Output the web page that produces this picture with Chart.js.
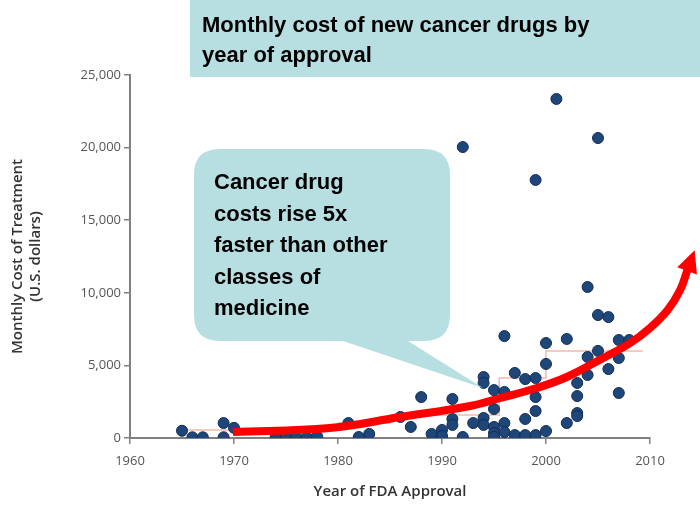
<!DOCTYPE html>
<html>
<head>
<meta charset="utf-8">
<script src="https://cdn.jsdelivr.net/npm/chart.js@4.4.1/dist/chart.umd.min.js"></script>
<style>
  html, body { margin: 0; padding: 0; background: #ffffff; }
  #c { display: block; }
</style>
</head>
<body>
<canvas id="c" width="700" height="506"></canvas>
<script>
// ---- data ----
const drugYears = [
  1965, 1966, 1967, 1969, 1969, 1970,
  1974, 1975, 1976, 1977, 1978,
  1981, 1982, 1983, 1986, 1987, 1988, 1989, 1990, 1990,
  1991, 1991, 1991, 1992, 1992, 1993,
  1994, 1994, 1994, 1994,
  1995, 1995, 1995, 1995, 1995,
  1996, 1996, 1996, 1996,
  1997, 1997,
  1998, 1998, 1998,
  1999, 1999, 1999, 1999, 1999,
  2000, 2000, 2000,
  2001,
  2002, 2002,
  2003, 2003, 2003, 2003,
  2004, 2004, 2004,
  2005, 2005, 2005,
  2006, 2006,
  2007, 2007, 2007,
  2008
];
const drugCosts = [
  500, 50, 50, 1030, 50, 700,
  50, 50, 50, 50, 100,
  1030, 70, 280, 1450, 760, 2820, 280, 550, 140,
  2690, 1310, 900, 70, 20040, 1030,
  4200, 3790, 1380, 900,
  3300, 2000, 760, 340, 70,
  7020, 3170, 1030, 410,
  4480, 200,
  4060, 1310, 200,
  4130, 2820, 1860, 200, 17770,
  6540, 5100, 480,
  23350,
  6820, 1030,
  3790, 2890, 1720, 1515,
  10400, 5580, 4340,
  8470, 6000, 20660,
  8330, 4750,
  6750, 5510, 3100,
  6750
];
// faint median step line
const medianYears = [1965, 1980, 1985, 1995.5, 2000, 2005, 2009.3];
const medianCosts = [100, 550, 1030, 1580, 4130, 6000, 6000];
// red trend arrow (annotation curve), listed from the arrow tip back to its tail
const arrowYears = [2013.6, 2012.9, 2011.7, 2010.0, 2008.1, 2005.5, 2002.0, 1999.1, 1995.6, 1992.7, 1986.0, 1979.2, 1969.9];
const arrowCosts = [11570, 10193, 8815, 7576, 6543, 5510, 4201, 3444, 2755, 2204, 1446, 689, 413];
// ticks
const xTicks = [1960, 1970, 1980, 1990, 2000, 2010];
const yTicks = [0, 5000, 10000, 15000, 20000, 25000];

const titleLines = ["Monthly cost of new cancer drugs by", "year of approval"];
const calloutLines = ["Cancer drug", "costs rise 5x", "faster than other", "classes of", "medicine"];

const zip = (xs, ys) => xs.map((x, i) => ({ x: x, y: ys[i] }));

const overlayPlugin = {
  id: 'overlay',
  afterDatasetsDraw(chart) {
    const ctx = chart.ctx;
    // arrowhead at the tip end of the red curve
    const pts = chart.getDatasetMeta(0).data;
    const p0 = pts[0], p1 = pts[1];
    let dx = p0.x - p1.x, dy = p0.y - p1.y;
    const len = Math.hypot(dx, dy) || 1;
    dx /= len; dy /= len;
    const nx = -dy, ny = dx;
    const headLen = 21, headHalf = 10.5;
    ctx.save();
    ctx.fillStyle = '#ff0000';
    ctx.beginPath();
    ctx.moveTo(p0.x + dx * headLen, p0.y + dy * headLen);
    ctx.lineTo(p0.x + nx * headHalf - dx, p0.y + ny * headHalf - dy);
    ctx.lineTo(p0.x - nx * headHalf - dx, p0.y - ny * headHalf - dy);
    ctx.closePath();
    ctx.fill();
    ctx.restore();
  },
  afterDraw(chart) {
    const ctx = chart.ctx;
    const fill = '#b7dfe2';
    ctx.save();
    // title box
    ctx.fillStyle = fill;
    ctx.fillRect(190, 0, 510, 77);
    ctx.fillStyle = '#000000';
    ctx.font = 'bold 22px "Liberation Sans", Arial, sans-serif';
    ctx.textBaseline = 'alphabetic';
    ctx.textAlign = 'left';
    ctx.fillText(titleLines[0], 202, 32);
    ctx.fillText(titleLines[1], 202, 62);

    // callout bubble
    const bx = 194, by = 149, bw = 256, bh = 192, r = 26;
    ctx.fillStyle = fill;
    ctx.beginPath();
    ctx.moveTo(bx + r, by);
    ctx.lineTo(bx + bw - r, by);
    ctx.quadraticCurveTo(bx + bw, by, bx + bw, by + r);
    ctx.lineTo(bx + bw, by + bh - r);
    ctx.quadraticCurveTo(bx + bw, by + bh, bx + bw - r, by + bh);
    ctx.lineTo(408, by + bh);
    ctx.lineTo(483, 388);
    ctx.lineTo(343, by + bh);
    ctx.lineTo(bx + r, by + bh);
    ctx.quadraticCurveTo(bx, by + bh, bx, by + bh - r);
    ctx.lineTo(bx, by + r);
    ctx.quadraticCurveTo(bx, by, bx + r, by);
    ctx.closePath();
    ctx.fill();
    ctx.fillStyle = '#000000';
    const base = [189, 221, 252, 284, 315];
    calloutLines.forEach((t, i) => ctx.fillText(t, 214, base[i]));
    ctx.restore();
  }
};

new Chart(document.getElementById('c'), {
  type: 'scatter',
  data: {
    datasets: [
      {
        type: 'line',
        label: 'trend',
        data: zip(arrowYears, arrowCosts),
        borderColor: '#ff0000',
        borderWidth: 8,
        borderCapStyle: 'butt',
        tension: 0.4,
        pointRadius: 0,
        fill: false,
        clip: false,
        order: 0
      },
      {
        type: 'scatter',
        label: 'drugs',
        data: zip(drugYears, drugCosts),
        pointRadius: 5.5,
        pointBackgroundColor: '#1f4679',
        pointBorderColor: '#112c58',
        pointBorderWidth: 1,
        order: 1
      },
      {
        type: 'line',
        label: 'median',
        data: zip(medianYears, medianCosts),
        stepped: 'after',
        borderColor: 'rgba(236,160,140,0.75)',
        borderWidth: 1.5,
        pointRadius: 0,
        fill: false,
        order: 2
      }
    ]
  },
  options: {
    responsive: false,
    animation: false,
    devicePixelRatio: 1,
    layout: { padding: { left: 0, right: 50, top: 75, bottom: 0 } },
    plugins: {
      legend: { display: false },
      tooltip: { enabled: false },
      title: { display: false }
    },
    scales: {
      x: {
        type: 'linear',
        min: 1960,
        max: 2010,
        afterBuildTicks: (s) => { s.ticks = xTicks.map(v => ({ value: v })); },
        afterFit: (s) => { s.height = 68; },
        ticks: {
          color: '#555555',
          font: { family: '"Open Sans", "DejaVu Sans", sans-serif', size: 13 },
          padding: 9,
          maxRotation: 0,
          callback: (v) => String(v)
        },
        grid: { display: true, drawOnChartArea: false, drawTicks: true, tickLength: 6, color: '#808080', lineWidth: 1.5 },
        border: { display: true, color: '#808080', width: 2 },
        title: {
          display: true,
          text: 'Year of FDA Approval',
          color: '#333333',
          font: { family: '"Open Sans", "DejaVu Sans", sans-serif', size: 15, weight: '600', lineHeight: 1.2 },
          padding: { top: 0, bottom: 5 }
        }
      },
      y: {
        type: 'linear',
        min: 0,
        max: 25000,
        afterBuildTicks: (s) => { s.ticks = yTicks.map(v => ({ value: v })); },
        afterFit: (s) => { s.width = 130; },
        ticks: {
          color: '#555555',
          font: { family: '"Open Sans", "DejaVu Sans", sans-serif', size: 13 },
          padding: 3,
          callback: (v) => v.toLocaleString('en-US')
        },
        grid: { display: true, drawOnChartArea: false, drawTicks: true, tickLength: 6, color: '#808080', lineWidth: 1.5 },
        border: { display: true, color: '#808080', width: 2 },
        title: {
          display: true,
          text: ['Monthly Cost of Treatment', '(U.S. dollars)'],
          color: '#333333',
          font: { family: '"Open Sans", "DejaVu Sans", sans-serif', size: 15, weight: '600', lineHeight: 1.2 },
          padding: { top: 9, bottom: 0 }
        }
      }
    }
  },
  plugins: [overlayPlugin]
});
</script>
</body>
</html>
